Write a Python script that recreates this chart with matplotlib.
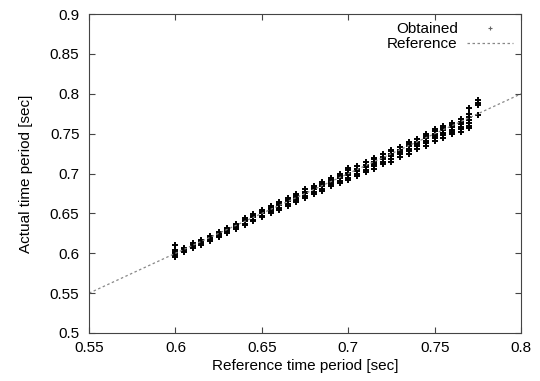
import numpy as np
import matplotlib.pyplot as plt

plt.rcParams['font.family'] = ['Liberation Sans', 'DejaVu Sans']

# reference periods (x) and measured periods per reference (y)
ref_periods = [0.600, 0.605, 0.610, 0.615, 0.620, 0.625, 0.630, 0.635, 0.640,
               0.645, 0.650, 0.655, 0.660, 0.665, 0.670, 0.675, 0.680, 0.685,
               0.690, 0.695, 0.700, 0.705, 0.710, 0.715, 0.720, 0.725, 0.730,
               0.735, 0.740, 0.745, 0.750, 0.755, 0.760, 0.765, 0.770, 0.775]

actual_periods = [
    [0.595, 0.598, 0.600, 0.602, 0.604, 0.611],
    [0.601, 0.603, 0.605, 0.607],
    [0.607, 0.609, 0.611, 0.613],
    [0.611, 0.613, 0.615, 0.617],
    [0.615, 0.618, 0.620, 0.622],
    [0.620, 0.622, 0.624, 0.627],
    [0.625, 0.628, 0.630, 0.632],
    [0.630, 0.633, 0.635, 0.637],
    [0.635, 0.637, 0.640, 0.642, 0.644],
    [0.640, 0.642, 0.645, 0.647, 0.649],
    [0.645, 0.647, 0.650, 0.652, 0.654],
    [0.650, 0.653, 0.655, 0.657, 0.659],
    [0.654, 0.657, 0.660, 0.662, 0.664],
    [0.659, 0.662, 0.665, 0.667, 0.669],
    [0.664, 0.667, 0.669, 0.672, 0.674],
    [0.669, 0.672, 0.675, 0.677, 0.680],
    [0.674, 0.677, 0.680, 0.682, 0.685],
    [0.678, 0.681, 0.684, 0.687, 0.690],
    [0.684, 0.687, 0.690, 0.692, 0.695],
    [0.688, 0.691, 0.694, 0.697, 0.700],
    [0.692, 0.695, 0.698, 0.701, 0.704, 0.707],
    [0.697, 0.700, 0.703, 0.706, 0.709],
    [0.702, 0.705, 0.708, 0.711, 0.714],
    [0.706, 0.709, 0.712, 0.715, 0.718, 0.720],
    [0.712, 0.715, 0.718, 0.721, 0.724],
    [0.715, 0.718, 0.722, 0.725, 0.728, 0.730],
    [0.721, 0.724, 0.727, 0.730, 0.733],
    [0.725, 0.728, 0.731, 0.734, 0.737, 0.740],
    [0.731, 0.734, 0.737, 0.740, 0.743],
    [0.735, 0.738, 0.741, 0.744, 0.747, 0.750],
    [0.741, 0.744, 0.747, 0.750, 0.753, 0.756],
    [0.745, 0.748, 0.751, 0.754, 0.757, 0.760],
    [0.749, 0.752, 0.755, 0.758, 0.761, 0.764],
    [0.752, 0.756, 0.759, 0.762, 0.765, 0.768],
    [0.757, 0.760, 0.764, 0.767, 0.771, 0.775, 0.782],
    [0.773, 0.786, 0.789, 0.792],
]

ref_line = [0.55, 0.8]

xs = []
ys = []
for x, vals in zip(ref_periods, actual_periods):
    for v in vals:
        xs.append(x)
        ys.append(v)

fig = plt.figure(figsize=(5.4, 3.81), dpi=100)
ax = fig.add_axes([0.165, 0.126, 0.8, 0.837])

ax.plot(xs, ys, linestyle='none', marker='+', color='black',
        markersize=4.5, markeredgewidth=1.4, label='Obtained')
ax.plot(ref_line, ref_line, linestyle=(0, (2, 2)), color='#888888',
        linewidth=0.9, label='Reference')

ax.set_xlim(0.55, 0.8)
ax.set_ylim(0.5, 0.9)
ax.set_xticks([0.55, 0.6, 0.65, 0.7, 0.75, 0.8])
ax.set_xticklabels(['0.55', '0.6', '0.65', '0.7', '0.75', '0.8'])
ax.set_yticks([0.5, 0.55, 0.6, 0.65, 0.7, 0.75, 0.8, 0.85, 0.9])
ax.set_yticklabels(['0.5', '0.55', '0.6', '0.65', '0.7', '0.75', '0.8', '0.85', '0.9'])
ax.tick_params(direction='in', top=True, right=True, length=4,
               labelsize=11, color='#444444')
ax.tick_params(axis='x', pad=6)
ax.tick_params(axis='y', pad=7)
for s in ax.spines.values():
    s.set_color('#444444')

ax.set_xlabel('Reference time period [sec]', fontsize=11, labelpad=3)
ax.set_ylabel('Actual time period [sec]', fontsize=11, labelpad=12)

leg = ax.legend(loc='upper right', frameon=False, markerfirst=False, fontsize=11,
                handlelength=3, borderaxespad=0.15, labelspacing=0.05,
                handletextpad=0.6)
# legend point is drawn small and grey in the original
leg.legend_handles[0].set_markersize(3)
leg.legend_handles[0].set_markeredgewidth(0.8)
leg.legend_handles[0].set_color('#666666')

plt.savefig('out.png', dpi=100)
